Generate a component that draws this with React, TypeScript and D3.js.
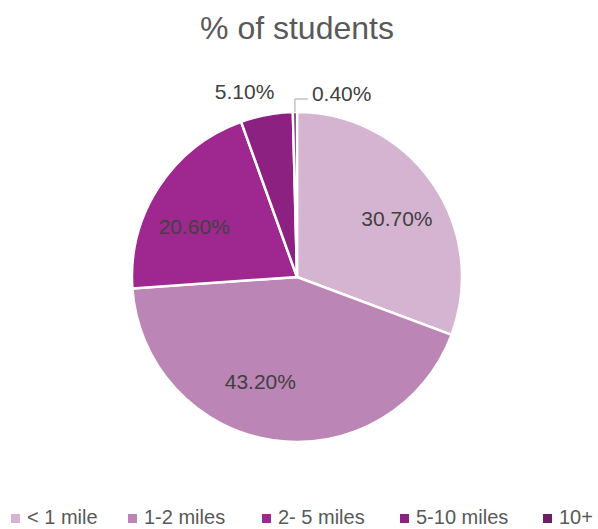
import React from "react";
import * as d3 from "d3";

const categories = ["< 1 mile", "1-2 miles", "2- 5 miles", "5-10 miles", "10+"];
const values = [30.7, 43.2, 20.6, 5.1, 0.4];
const labels = ["30.70%", "43.20%", "20.60%", "5.10%", "0.40%"];
const colors = ["#d4b4d1", "#bb86b5", "#9f2890", "#8c2181", "#6e1f63"];
const title = "% of students";

export default function App() {
  const W = 598, H = 529;
  const cx = 297, cy = 277, r = 165;
  const pie = d3.pie<number>().sort(null).value((d) => d);
  const arcs = pie(values);
  const arc = d3.arc<d3.PieArcDatum<number>>().innerRadius(0).outerRadius(r);
  const labelArc = d3.arc<d3.PieArcDatum<number>>().innerRadius(r * 0.7).outerRadius(r * 0.7);
  const font = "'Liberation Sans', Arial, sans-serif";
  const legendX = [11, 128, 262, 400, 543];

  return (
    <svg width={W} height={H} style={{ position: "absolute", left: 0, top: 0, background: "#fff" }}>
      <text x={cx} y={39} textAnchor="middle" fontFamily={font} fontSize={32} fill="#595959">{title}</text>
      <g transform={`translate(${cx},${cy})`}>
        {arcs.map((a, i) => (
          <path key={i} d={arc(a) || ""} fill={colors[i]} stroke="#fff" strokeWidth={2.5} />
        ))}
        {arcs.map((a, i) => {
          if (i < 3) {
            const [x, y] = labelArc.centroid(a);
            const adj = i === 0 ? [5, 7] : i === 1 ? [-20, -10] : [-6, 13];
            return (
              <text key={i} x={x + adj[0]} y={y + adj[1]} textAnchor="middle" dominantBaseline="central"
                fontFamily={font} fontSize={21} fill="#404040">{labels[i]}</text>
            );
          }
          const mid = (a.startAngle + a.endAngle) / 2;
          const ex = Math.sin(mid) * r, ey = -Math.cos(mid) * r;
          if (i === 3) {
            return (
              <text key={i} x={ex - 22} y={ey - 23} textAnchor="middle" dominantBaseline="central"
                fontFamily={font} fontSize={21} fill="#404040">{labels[i]}</text>
            );
          }
          return (
            <g key={i}>
              <polyline points={`${ex},${ey} ${ex},${ey - 13} ${ex + 13},${ey - 13}`} fill="none" stroke="#a6a6a6" strokeWidth={1} />
              <text x={ex + 17} y={ey - 19} textAnchor="start" dominantBaseline="central"
                fontFamily={font} fontSize={21} fill="#404040">{labels[i]}</text>
            </g>
          );
        })}
      </g>
      {categories.map((c, i) => (
        <g key={c} transform={`translate(${legendX[i]},517)`}>
          <rect x={0} y={-3} width={9} height={9} fill={colors[i]} />
          <text x={16} y={0} dominantBaseline="central" fontFamily={font} fontSize={20} fill="#595959">{c}</text>
        </g>
      ))}
    </svg>
  );
}
